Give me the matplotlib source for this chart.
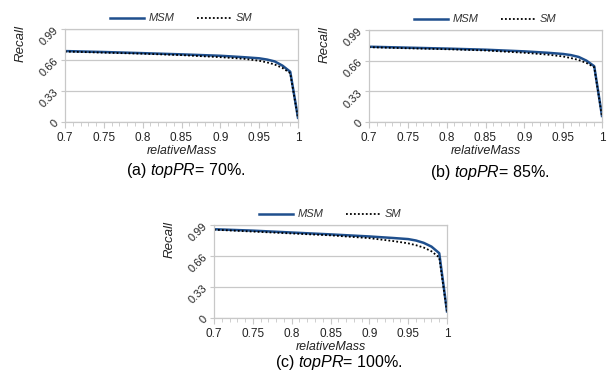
import matplotlib
matplotlib.use("Agg")
import matplotlib.pyplot as plt
from matplotlib.ticker import MultipleLocator, FixedLocator

plt.rcParams['font.family'] = ['Liberation Sans', 'DejaVu Sans']
plt.rcParams['mathtext.fontset'] = 'custom'
plt.rcParams['mathtext.it'] = 'Liberation Sans:italic'
plt.rcParams['mathtext.rm'] = 'Liberation Sans'

relative_mass = [0.70, 0.75, 0.80, 0.85, 0.90, 0.93, 0.95, 0.96, 0.97, 0.98, 0.99, 1.00]

msm_70 = [0.755, 0.745, 0.733, 0.720, 0.705, 0.690, 0.678, 0.665, 0.645, 0.600, 0.535, 0.045]
sm_70 = [0.750, 0.738, 0.727, 0.712, 0.690, 0.673, 0.652, 0.635, 0.612, 0.575, 0.520, 0.040]

msm_85 = [0.810, 0.800, 0.790, 0.778, 0.760, 0.745, 0.732, 0.720, 0.700, 0.660, 0.600, 0.065]
sm_85 = [0.805, 0.793, 0.783, 0.770, 0.745, 0.725, 0.705, 0.688, 0.667, 0.635, 0.590, 0.060]

msm_100 = [0.945, 0.930, 0.910, 0.890, 0.868, 0.852, 0.840, 0.825, 0.800, 0.760, 0.690, 0.070]
sm_100 = [0.940, 0.920, 0.900, 0.880, 0.850, 0.820, 0.795, 0.775, 0.750, 0.710, 0.645, 0.065]

x_ticks = [0.7, 0.75, 0.8, 0.85, 0.9, 0.95, 1.0]
x_tick_labels = ["0.7", "0.75", "0.8", "0.85", "0.9", "0.95", "1"]
y_ticks = [0, 0.33, 0.66, 0.99]
y_tick_labels = ["0", "0.33", "0.66", "0.99"]

captions = ["(a) $\\mathit{topPR}$= 70%.", "(b) $\\mathit{topPR}$= 85%.", "(c) $\\mathit{topPR}$= 100%."]
series_names = ["MSM", "SM"]

W, H = 609, 373
fig = plt.figure(figsize=(W / 100, H / 100), dpi=100)

# axes boxes in pixel coords: left, right, top, bottom
boxes = [(65, 298, 29, 122), (369, 602, 30, 122), (214, 447, 225, 318)]
caption_pos = [(186, 170), (490, 172), (339, 362)]
data = [(msm_70, sm_70), (msm_85, sm_85), (msm_100, sm_100)]

grid_col = '#c8c8c8'
blue = '#1f4f8d'
text_col = '#333333'

for (l, r, t, b), (msm, sm), cap, (cx, cy) in zip(boxes, data, captions, caption_pos):
    ax = fig.add_axes([l / W, 1 - b / H, (r - l) / W, (b - t) / H])
    ax.plot(relative_mass, msm, color=blue, lw=1.8, label=series_names[0])
    ax.plot(relative_mass, sm, color='black', lw=1.3, ls=(0, (1, 1.2)), label=series_names[1])
    ax.set_xlim(0.7, 1.0)
    ax.set_ylim(0, 0.99)
    ax.xaxis.set_major_locator(FixedLocator(x_ticks))
    ax.set_xticklabels(x_tick_labels)
    ax.xaxis.set_minor_locator(MultipleLocator(0.01))
    ax.yaxis.set_major_locator(FixedLocator(y_ticks))
    ax.set_yticklabels(y_tick_labels, rotation=45, ha='right', va='center', rotation_mode='anchor')
    ax.tick_params(axis='x', which='major', length=4, color=grid_col, labelsize=8.5, pad=3, labelcolor='#222222')
    ax.tick_params(axis='x', which='minor', length=3, color=grid_col)
    ax.tick_params(axis='y', which='major', length=3, color=grid_col, labelsize=8, pad=3, labelcolor='#222222')
    ax.grid(axis='y', color=grid_col, lw=0.9)
    ax.set_axisbelow(True)
    for s in ax.spines.values():
        s.set_color(grid_col)
        s.set_linewidth(0.9)
    ax.set_xlabel("relativeMass", fontstyle='italic', fontsize=9, labelpad=1, color='#222222')
    ax.set_ylabel("Recall", fontstyle='italic', fontsize=9.5, color='#222222')
    ax.yaxis.set_label_coords(-0.165, 0.84)
    leg = ax.legend(loc='lower center', bbox_to_anchor=(0.5, 1.0), ncol=2, frameon=False,
                    handlelength=3.0, columnspacing=2.0, handletextpad=0.5,
                    borderaxespad=0.1, prop={'style': 'italic', 'size': 8})
    for txt in leg.get_texts():
        txt.set_color(text_col)
    fig.text(cx / W, 1 - cy / H, cap, ha='center', va='center', fontsize=11.5, color='black')

fig.savefig("out.png", dpi=100)
